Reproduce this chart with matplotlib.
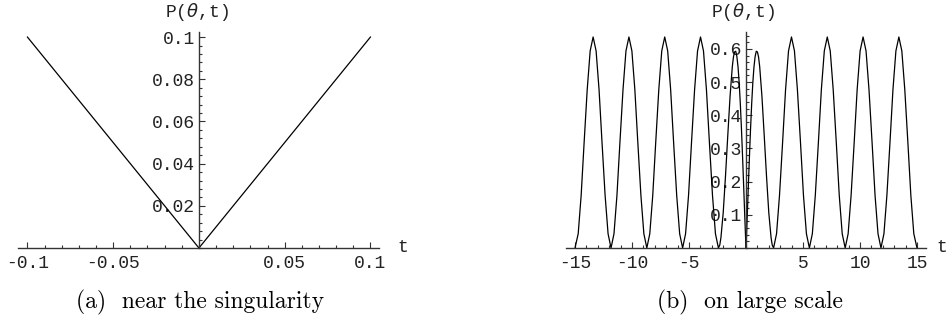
import matplotlib
matplotlib.use("Agg")
import matplotlib.pyplot as plt
from matplotlib.ticker import FixedLocator, MultipleLocator

# panel (a): near the singularity
t_a = [-0.1, 0.0, 0.1]
p_a = [0.1, 0.0, 0.1]
xticks_a = [-0.1, -0.05, 0.05, 0.1]
xlabels_a = ["-0.1", "-0.05", "0.05", "0.1"]
yticks_a = [0.02, 0.04, 0.06, 0.08, 0.1]
ylabels_a = ["0.02", "0.04", "0.06", "0.08", "0.1"]

# panel (b): on large scale, right branch (t >= 0)
t_b_right = [0, 0.05, 0.1, 0.2, 0.3, 0.4, 0.5, 0.6, 0.7, 0.8, 0.9, 1.0, 1.1, 1.2,
             1.4, 1.6, 1.8, 2.0, 2.2, 2.3, 2.42,
             2.68, 2.94, 3.21, 3.47, 3.73, 3.99, 4.25, 4.51, 4.78, 5.04, 5.30, 5.56,
             5.82, 6.08, 6.35, 6.61, 6.87, 7.13, 7.39, 7.65, 7.92, 8.18, 8.44, 8.70,
             8.96, 9.22, 9.49, 9.75, 10.01, 10.27, 10.53, 10.79, 11.06, 11.32, 11.58, 11.84,
             12.10, 12.36, 12.63, 12.89, 13.15, 13.41, 13.67, 13.93, 14.20, 14.46, 14.72, 15.0]
p_b_right = [0, 0.043, 0.088, 0.182, 0.274, 0.360, 0.436, 0.499, 0.546, 0.577, 0.593, 0.591, 0.576, 0.547,
             0.456, 0.338, 0.216, 0.106, 0.031, 0.009, 0,
             0.043, 0.159, 0.318, 0.477, 0.594, 0.636, 0.594, 0.477, 0.318, 0.159, 0.043, 0,
             0.043, 0.159, 0.318, 0.477, 0.594, 0.636, 0.594, 0.477, 0.318, 0.159, 0.043, 0,
             0.043, 0.159, 0.318, 0.477, 0.594, 0.636, 0.594, 0.477, 0.318, 0.159, 0.043, 0,
             0.043, 0.159, 0.318, 0.477, 0.594, 0.636, 0.594, 0.477, 0.318, 0.159, 0.043, 0]
# left branch (t <= 0)
t_b_left = [0, -0.05, -0.1, -0.2, -0.3, -0.4, -0.5, -0.6, -0.7, -0.8, -0.9, -1.0, -1.1, -1.2,
            -1.4, -1.6, -1.8, -2.0, -2.2, -2.3, -2.42,
            -2.68, -2.94, -3.21, -3.47, -3.73, -3.99, -4.25, -4.51, -4.78, -5.04, -5.30, -5.56,
            -5.82, -6.08, -6.35, -6.61, -6.87, -7.13, -7.39, -7.65, -7.92, -8.18, -8.44, -8.70,
            -8.96, -9.22, -9.49, -9.75, -10.01, -10.27, -10.53, -10.79, -11.06, -11.32, -11.58, -11.84,
            -12.10, -12.36, -12.63, -12.89, -13.15, -13.41, -13.67, -13.93, -14.20, -14.46, -14.72, -15.0]
p_b_left = [0, 0.043, 0.088, 0.182, 0.274, 0.360, 0.436, 0.499, 0.546, 0.577, 0.593, 0.591, 0.576, 0.547,
            0.456, 0.338, 0.216, 0.106, 0.031, 0.009, 0,
            0.043, 0.159, 0.318, 0.477, 0.594, 0.636, 0.594, 0.477, 0.318, 0.159, 0.043, 0,
            0.043, 0.159, 0.318, 0.477, 0.594, 0.636, 0.594, 0.477, 0.318, 0.159, 0.043, 0,
            0.043, 0.159, 0.318, 0.477, 0.594, 0.636, 0.594, 0.477, 0.318, 0.159, 0.043, 0,
            0.043, 0.159, 0.318, 0.477, 0.594, 0.636, 0.594, 0.477, 0.318, 0.159, 0.043, 0]
xticks_b = [-15, -10, -5, 5, 10, 15]
xlabels_b = ["-15", "-10", "-5", "5", "10", "15"]
yticks_b = [0.1, 0.2, 0.3, 0.4, 0.5, 0.6]
ylabels_b = ["0.1", "0.2", "0.3", "0.4", "0.5", "0.6"]

W, H = 948, 322
MONO = "Liberation Mono"
AXC = "#333333"
TXT = "#222222"
FS = 13


def style_axes(ax, xticks, xlabels, yticks, ylabels, xminor, yminor):
    for s in ("top", "right"):
        ax.spines[s].set_visible(False)
    ax.spines["left"].set_position(("data", 0))
    for s in ("left", "bottom"):
        ax.spines[s].set_color(AXC)
        ax.spines[s].set_linewidth(1.0)
    ax.xaxis.set_major_locator(FixedLocator(xticks))
    ax.set_xticklabels(xlabels)
    ax.yaxis.set_major_locator(FixedLocator(yticks))
    ax.set_yticklabels(ylabels)
    ax.xaxis.set_minor_locator(MultipleLocator(xminor))
    ax.yaxis.set_minor_locator(MultipleLocator(yminor))
    ax.tick_params(which="both", direction="in", color=AXC, width=0.8)
    ax.tick_params(which="major", length=4)
    ax.tick_params(which="minor", length=2.5)
    ax.tick_params(axis="x", which="major", pad=5)
    ax.tick_params(axis="y", which="major", pad=3)
    for lab in ax.get_xticklabels() + ax.get_yticklabels():
        lab.set_fontfamily(MONO)
        lab.set_fontsize(FS)
        lab.set_color(TXT)
    ax.patch.set_alpha(0)


fig = plt.figure(figsize=(W / 100, H / 100), dpi=100)

# panel (a)
ax1 = fig.add_axes([18 / W, 74 / H, 361 / W, 216 / H])
ax1.plot(t_a, p_a, color="black", lw=0.9)
ax1.set_xlim(-0.1055, 0.105)
ax1.set_ylim(0, 0.1024)
style_axes(ax1, xticks_a, xlabels_a, yticks_a, ylabels_a, 0.01, 0.004)

# panel (b)
ax2 = fig.add_axes([566 / W, 74 / H, 360 / W, 216 / H])
ax2.plot(t_b_right, p_b_right, color="black", lw=0.9)
ax2.plot(t_b_left, p_b_left, color="black", lw=0.9)
ax2.set_xlim(-15.79, 15.79)
ax2.set_ylim(0, 0.651)
style_axes(ax2, xticks_b, xlabels_b, yticks_b, ylabels_b, 1, 0.02)

# axis labels
for cx, tx in ((197, 397), (743, 936)):
    fig.text(cx / W, 1 - 12 / H, r"P($\theta$,t)", fontfamily=MONO, fontsize=FS,
             color=TXT, ha="center", va="center")
    fig.text(tx / W, 1 - 247 / H, "t", fontfamily=MONO, fontsize=FS,
             color=TXT, ha="left", va="center")

# captions
fig.text(200 / W, 1 - 302 / H, "(a)  near the singularity", fontfamily="cmr10",
         fontsize=17, color="black", ha="center", va="center")
fig.text(750 / W, 1 - 302 / H, "(b)  on large scale", fontfamily="cmr10",
         fontsize=17, color="black", ha="center", va="center")

fig.savefig("out.png", dpi=100)
